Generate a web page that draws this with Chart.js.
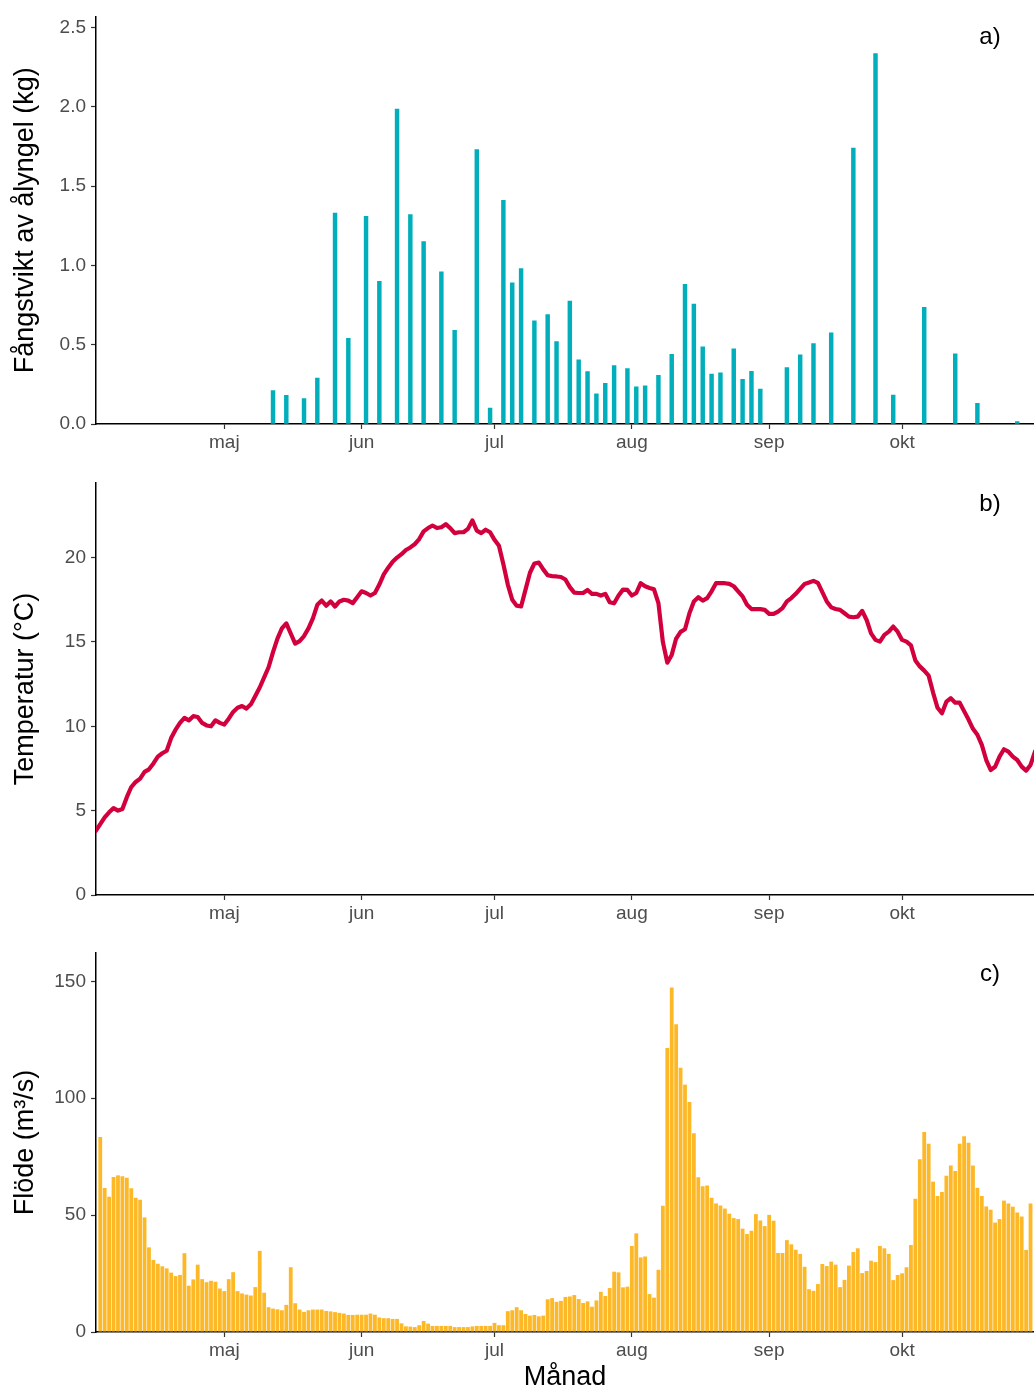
<!DOCTYPE html>
<html>
<head>
<meta charset="utf-8">
<script src="https://cdn.jsdelivr.net/npm/chart.js@4.4.1/dist/chart.umd.min.js"></script>
<style>
  body { margin: 0; background: #fff; width: 1034px; height: 1394px; position: relative; overflow: hidden; }
  canvas { position: absolute; left: 0; }
</style>
</head>
<body>
<canvas id="fangst" width="1034" height="460" style="top:0px"></canvas>
<canvas id="temp" width="1034" height="470" style="top:460px"></canvas>
<canvas id="flode" width="1034" height="464" style="top:930px"></canvas>
<script>
// days are counted from 1 April (1 april = 0)
var monthDays = [30, 61, 91, 122, 153, 183];
var monthLabels = ['maj', 'jun', 'jul', 'aug', 'sep', 'okt'];
var panelLabels = ['a)', 'b)', 'c)'];

// a) catch of glass eel
var catchDays = [41, 44, 48, 51, 55, 58, 62, 65, 69, 72, 75, 79, 82, 87, 90, 93, 95, 97, 100, 103,
  105, 108, 110, 112, 114, 116, 118, 121, 123, 125, 128, 131, 134, 136, 138, 140, 142, 145, 147, 149,
  151, 157, 160, 163, 167, 172, 177, 181, 188, 195, 200, 209];
var catchKg = [0.21, 0.18, 0.16, 0.29, 1.33, 0.54, 1.31, 0.90, 1.985, 1.32, 1.15, 0.96, 0.59, 1.73, 0.10, 1.41, 0.89, 0.98, 0.65, 0.69,
  0.52, 0.775, 0.405, 0.33, 0.19, 0.256, 0.368, 0.35, 0.234, 0.24, 0.307, 0.44, 0.88, 0.756, 0.486, 0.315, 0.322, 0.474, 0.282, 0.332,
  0.22, 0.355, 0.436, 0.507, 0.575, 1.74, 2.336, 0.183, 0.736, 0.443, 0.13, 0.015];
var catchTicks = [0, 0.5, 1.0, 1.5, 2.0, 2.5];

// b) daily water temperature, first value on day 1 (2 april)
var tempFirstDay = 1;
var tempC = [3.8, 4.2, 4.6, 4.9, 5.15, 5.0, 5.1, 5.8, 6.4, 6.7,
  6.9, 7.3, 7.45, 7.8, 8.2, 8.4, 8.55, 9.3, 9.8, 10.2,
  10.5, 10.35, 10.6, 10.55, 10.2, 10.05, 10.0, 10.35, 10.2, 10.1,
  10.45, 10.85, 11.1, 11.2, 11.05, 11.3, 11.8, 12.3, 12.9, 13.5,
  14.4, 15.2, 15.8, 16.1, 15.5, 14.9, 15.05, 15.35, 15.8, 16.4,
  17.2, 17.45, 17.15, 17.4, 17.1, 17.4, 17.5, 17.45, 17.3, 17.65,
  18.0, 17.9, 17.75, 17.9, 18.4, 19.0, 19.4, 19.75, 20.0, 20.2,
  20.45, 20.6, 20.8, 21.1, 21.55, 21.75, 21.9, 21.75, 21.8, 21.98,
  21.75, 21.45, 21.5, 21.5, 21.7, 22.2, 21.6, 21.45, 21.65, 21.5,
  21.05, 20.7, 19.6, 18.4, 17.5, 17.15, 17.1, 18.1, 19.1, 19.65,
  19.7, 19.3, 18.95, 18.9, 18.88, 18.85, 18.7, 18.25, 17.92, 17.9,
  17.9, 18.08, 17.85, 17.85, 17.75, 17.85, 17.35, 17.29, 17.75, 18.1,
  18.08, 17.75, 17.9, 18.48, 18.3, 18.2, 18.12, 17.3, 15.0, 13.77,
  14.23, 15.2, 15.6, 15.75, 16.7, 17.4, 17.65, 17.45, 17.6, 18.0,
  18.48, 18.48, 18.48, 18.44, 18.3, 18.0, 17.7, 17.2, 16.95, 16.94,
  16.94, 16.9, 16.66, 16.66, 16.8, 17.0, 17.4, 17.6, 17.85, 18.15,
  18.44, 18.52, 18.62, 18.5, 17.95, 17.4, 17.05, 16.95, 16.9, 16.7,
  16.5, 16.46, 16.5, 16.84, 16.3, 15.51, 15.12, 15.02, 15.42, 15.61,
  15.91, 15.61, 15.12, 15.02, 14.8, 13.9, 13.55, 13.3, 13.0, 12.0,
  11.1, 10.77, 11.46, 11.66, 11.4, 11.4, 10.9, 10.4, 9.85, 9.5,
  8.9, 8.0, 7.41, 7.6, 8.2, 8.64, 8.5, 8.2, 8.0, 7.61,
  7.37, 7.71, 8.5];
var tempTicks = [0, 5, 10, 15, 20];

// c) daily flow, first value on day 2 (3 april)
var flowFirstDay = 2;
var flowM3s = [83.4, 61.6, 57.9, 66.3, 67.0, 66.6, 66.0, 61.5, 57.4, 56.6,
  49.0, 36.2, 30.8, 29.2, 28.1, 27.2, 25.4, 23.9, 24.4, 33.7,
  19.8, 22.5, 28.8, 22.6, 21.3, 21.9, 21.5, 18.6, 17.5, 22.6,
  25.6, 17.5, 16.5, 16.0, 15.6, 19.2, 34.7, 16.8, 10.6, 10.0,
  9.7, 9.3, 11.6, 27.7, 12.3, 9.6, 8.6, 9.3, 9.6, 9.6,
  9.6, 9.0, 8.8, 8.5, 8.2, 7.9, 7.3, 7.3, 7.4, 7.4,
  7.4, 7.9, 7.4, 6.2, 5.9, 5.9, 5.6, 5.6, 3.7, 2.4,
  2.3, 2.1, 2.9, 4.7, 3.6, 2.6, 2.6, 2.6, 2.6, 2.6,
  2.1, 2.1, 2.1, 2.1, 2.4, 2.6, 2.6, 2.6, 2.6, 3.9,
  2.9, 2.9, 8.9, 9.3, 10.6, 9.3, 7.7, 7.0, 7.3, 6.7,
  7.0, 14.0, 14.5, 12.9, 13.3, 15.0, 15.2, 15.8, 14.1, 12.4,
  13.1, 10.8, 13.5, 17.2, 15.4, 18.8, 25.8, 25.5, 19.1, 19.4,
  36.8, 42.2, 31.9, 32.3, 16.2, 14.7, 26.6, 54.0, 121.5, 147.3,
  131.6, 113.0, 105.8, 98.4, 85.0, 66.2, 62.3, 62.7, 57.4, 55.0,
  54.1, 52.8, 50.6, 48.7, 48.3, 44.2, 41.9, 43.3, 50.4, 47.7,
  45.3, 50.1, 47.6, 33.8, 33.8, 39.3, 37.5, 35.2, 33.4, 27.9,
  18.3, 17.6, 20.5, 29.1, 28.2, 30.1, 28.8, 19.2, 22.3, 28.4,
  34.2, 35.8, 25.2, 26.1, 30.5, 29.9, 36.8, 35.8, 33.4, 22.2,
  24.4, 25.1, 27.7, 37.2, 57.0, 73.9, 85.5, 80.5, 64.3, 58.2,
  59.9, 66.8, 71.2, 68.9, 80.5, 83.7, 80.9, 71.2, 61.7, 58.2,
  53.7, 52.3, 46.8, 48.3, 56.2, 55.0, 53.6, 51.1, 49.4, 35.1,
  55.0];
var flowTicks = [0, 50, 100, 150];

var xMin = 1.04, xMax = 212.78;
var textFont = '"Liberation Sans", Arial, sans-serif';

function points(days, vals) {
  return vals.map(function (v, i) { return { x: days[i], y: v }; });
}
function daysFrom(first, vals) {
  return vals.map(function (v, i) { return first + i; });
}

var panelLabel = {
  id: 'panelLabel',
  afterDraw: function (chart, args, opts) {
    var ctx = chart.ctx, a = chart.chartArea;
    ctx.save();
    ctx.font = '24px ' + textFont;
    ctx.fillStyle = '#000';
    ctx.textAlign = 'center';
    ctx.textBaseline = 'middle';
    ctx.fillText(opts.text, a.right - 44, a.top + 21);
    ctx.restore();
  }
};

function xAxis(h, title) {
  return {
    type: 'linear', min: xMin, max: xMax, offset: false,
    afterBuildTicks: function (s) { s.ticks = monthDays.map(function (v) { return { value: v }; }); },
    afterFit: function (s) { s.height = h; },
    ticks: {
      autoSkip: false, maxRotation: 0, padding: 2, color: '#4d4d4d',
      font: { family: textFont, size: 19 },
      callback: function (v, i) { return monthLabels[i]; }
    },
    grid: { offset: false, drawOnChartArea: false, tickLength: 5, color: '#333', tickWidth: 1.2 },
    border: { color: '#000', width: 1.5 },
    title: title ? { display: true, text: title, color: '#000', font: { family: textFont, size: 27 }, padding: { top: 0, bottom: 0 } } : { display: false }
  };
}

function yAxis(max, ticks, title, digits) {
  return {
    min: 0, max: max,
    afterBuildTicks: function (s) { s.ticks = ticks.map(function (v) { return { value: v }; }); },
    afterFit: function (s) { s.width = 96; },
    ticks: {
      padding: 5, color: '#4d4d4d', font: { family: textFont, size: 19 },
      callback: function (v) { return v.toFixed(digits); }
    },
    grid: { drawOnChartArea: false, tickLength: 5, color: '#333', tickWidth: 1.2 },
    border: { color: '#000', width: 1.5 },
    title: { display: true, text: title, color: '#000', font: { family: textFont, size: 27 }, padding: { top: 9, bottom: 0 } }
  };
}

function baseOptions(pad, label) {
  return {
    responsive: false, animation: false,
    layout: { padding: { top: pad, left: 0, right: 0, bottom: 0 } },
    plugins: { legend: { display: false }, tooltip: { enabled: false }, panelLabel: { text: label } }
  };
}

var optA = baseOptions(12, panelLabels[0]);
optA.scales = { x: xAxis(36), y: yAxis(2.57, catchTicks, 'Fångstvikt av ålyngel (kg)', 1) };
new Chart(document.getElementById('fangst'), {
  type: 'bar',
  data: { datasets: [{ data: points(catchDays, catchKg), backgroundColor: '#00AFBB', barThickness: 3.8 }] },
  options: optA,
  plugins: [panelLabel]
});

var optB = baseOptions(23, panelLabels[1]);
optB.scales = { x: xAxis(35), y: yAxis(24.42, tempTicks, 'Temperatur (°C)', 0) };
new Chart(document.getElementById('temp'), {
  type: 'line',
  data: { datasets: [{ data: points(daysFrom(tempFirstDay, tempC), tempC), borderColor: '#D2003C', borderWidth: 4.2,
    pointRadius: 0, tension: 0, fill: false, borderJoinStyle: 'round', borderCapStyle: 'round' }] },
  options: optB,
  plugins: [panelLabel]
});

var optC = baseOptions(23, panelLabels[2]);
optC.scales = { x: xAxis(62, 'Månad'), y: yAxis(162.1, flowTicks, 'Flöde (m³/s)', 0) };
new Chart(document.getElementById('flode'), {
  type: 'bar',
  data: { datasets: [{ data: points(daysFrom(flowFirstDay, flowM3s), flowM3s), backgroundColor: '#FDB827',
    barPercentage: 0.86, categoryPercentage: 1.0 }] },
  options: optC,
  plugins: [panelLabel]
});
</script>
</body>
</html>
